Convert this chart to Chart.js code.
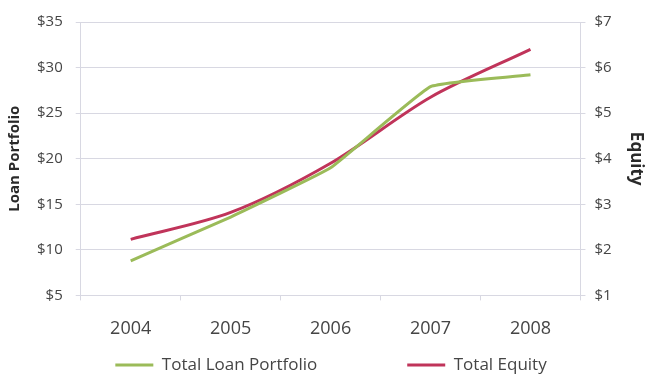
<!DOCTYPE html>
<html>
<head>
<meta charset="utf-8">
<script src="https://cdn.jsdelivr.net/npm/chart.js@4"></script>
<style>
  html, body { margin: 0; padding: 0; background: #fff; }
  #wrap { width: 646px; height: 376px; }
</style>
</head>
<body>
<div id="wrap"><canvas id="canvas"></canvas></div>
<script>
const years = ["2004", "2005", "2006", "2007", "2008"];
const loanPortfolio = [8.8, 13.6, 19.0, 27.9, 29.2];
const totalEquity = [2.23, 2.82, 3.9, 5.35, 6.4];

const textColor = "#454545";
const gridColor = "#d8d8e2";
const separacionLeyenda = 90;
const tamanoLeyenda = 17;

// la leyenda usa un padding grande para separar los dos items,
// aqui se le fija la altura y se sube el borde superior para que
// los items queden donde toca (solo se mueve top, el clip sigue incluyendo los items)
const ajusteLeyenda = {
    id: "ajusteLeyenda",
    afterInit(chart) {
        const fitOriginal = chart.legend.fit;
        chart.legend.fit = function () {
            fitOriginal.call(this);
            this.height = 18;
        };
    },
    afterLayout(chart) {
        const legend = chart.legend;
        legend.top = 365 - tamanoLeyenda / 2 - separacionLeyenda;
        legend.left += 8;
        legend.right += 8;
    }
};

let data = {};
data["labels"] = years;
data["datasets"] = [{
    label: "Total Loan Portfolio",
    data: loanPortfolio,
    borderColor: "#9bbb59",
    backgroundColor: "#9bbb59",
    borderWidth: 3,
    pointRadius: 0,
    pointStyle: "line",
    tension: 0.1,
    yAxisID: "y"
}, {
    label: "Total Equity",
    data: totalEquity,
    borderColor: "#c0345a",
    backgroundColor: "#c0345a",
    borderWidth: 3,
    pointRadius: 0,
    pointStyle: "line",
    tension: 0.3,
    yAxisID: "y1"
}];

let options = {
    responsive: true,
    maintainAspectRatio: false,
    animation: false,
    layout: { padding: { left: 0, right: 0, top: 19, bottom: 0 } },
    plugins: {
        legend: {
            position: "bottom",
            labels: {
                usePointStyle: true,
                pointStyleWidth: 38,
                padding: separacionLeyenda,
                color: textColor,
                font: { family: "Open Sans", size: tamanoLeyenda }
            }
        },
        tooltip: { enabled: false }
    },
    scales: {
        x: {
            offset: true,
            grid: { display: true, drawOnChartArea: false, color: gridColor, tickLength: 5, offset: true },
            border: { color: gridColor },
            ticks: { color: textColor, font: { family: "Open Sans", size: 18 }, padding: 18 }
        },
        y: {
            position: "left",
            min: 5, max: 35,
            ticks: { stepSize: 5, color: textColor, font: { family: "Open Sans", size: 15 }, padding: 13,
                callback: v => "$" + v },
            grid: { color: gridColor, tickLength: 5 },
            border: { color: gridColor },
            title: { display: true, text: "Loan Portfolio", color: "#2a2a2a",
                font: { family: "Open Sans", size: 15, weight: "bold" },
                padding: { top: 6, bottom: 0 } }
        },
        y1: {
            position: "right",
            min: 1, max: 7,
            ticks: { stepSize: 1, color: textColor, font: { family: "Open Sans", size: 15 }, padding: 9,
                callback: v => "$" + v },
            grid: { drawOnChartArea: false, color: gridColor, tickLength: 5 },
            border: { color: gridColor },
            title: { display: true, text: "Equity", color: "#2a2a2a",
                font: { family: "Open Sans", size: 17, weight: "bold" },
                padding: { top: 0, bottom: 5 } }
        }
    }
};

let canvas = document.getElementById("canvas").getContext("2d");
let chart = new Chart(canvas, { type: "line", data: data, options: options, plugins: [ajusteLeyenda] });
</script>
</body>
</html>
